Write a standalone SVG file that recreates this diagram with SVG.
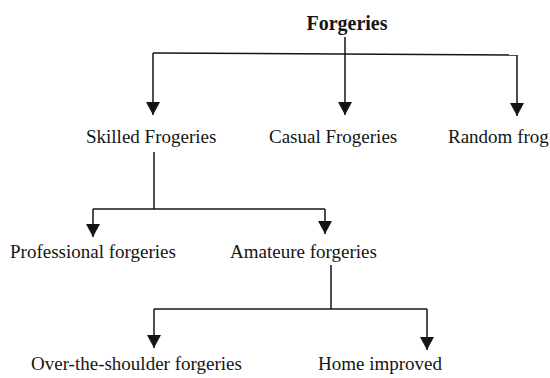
<svg xmlns="http://www.w3.org/2000/svg" width="550" height="378" viewBox="0 0 550 378">
<defs>
<style>
.t{font-family:"Liberation Serif","Times New Roman",serif;font-size:19px;fill:#151515}
.b{font-weight:bold;font-size:20px;text-anchor:middle}
.c{stroke:#151515;stroke-width:1.5;fill:none}
</style>
<marker id="ah" markerUnits="userSpaceOnUse" markerWidth="14" markerHeight="16" refX="13" refY="7" orient="auto" viewBox="0 0 14 14">
<path d="M0,0 L13,7 L0,14 Z" fill="#151515"/>
</marker>
</defs>
<rect width="550" height="378" fill="#fff"/>
<g id="connectors">
<path class="c" d="M345,37 V54"/>
<path class="c" d="M153,53 L517,55"/>
<path class="c" d="M153,53 V115" marker-end="url(#ah)"/>
<path class="c" d="M345,54 V115" marker-end="url(#ah)"/>
<path class="c" d="M517,55 V116" marker-end="url(#ah)"/>
<path class="c" d="M154,152 V209"/>
<path class="c" d="M93,209 H325"/>
<path class="c" d="M93,209 V237" marker-end="url(#ah)"/>
<path class="c" d="M325,209 V234" marker-end="url(#ah)"/>
<path class="c" d="M331,265 V309"/>
<path class="c" d="M154,309 H427"/>
<path class="c" d="M154,309 V348" marker-end="url(#ah)"/>
<path class="c" d="M427,309 V350" marker-end="url(#ah)"/>
</g>
<g id="forgeries"><text class="t b" x="347" y="30">Forgeries</text></g>
<g id="skilled"><text class="t" x="86" y="143">Skilled Frogeries</text></g>
<g id="casual"><text class="t" x="269" y="143">Casual Frogeries</text></g>
<g id="random"><text class="t" x="448" y="143">Random frog</text></g>
<g id="professional"><text class="t" x="10" y="258">Professional forgeries</text></g>
<g id="amateure"><text class="t" x="230" y="258">Amateure forgeries</text></g>
<g id="overshoulder"><text class="t" x="31" y="370">Over-the-shoulder forgeries</text></g>
<g id="home"><text class="t" x="318" y="370">Home improved</text></g>
</svg>
